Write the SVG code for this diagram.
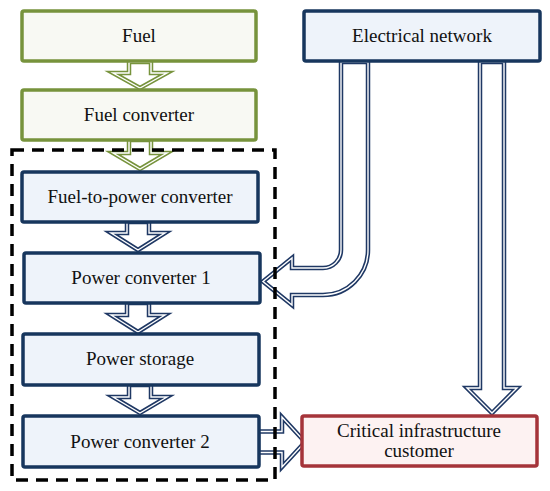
<svg xmlns="http://www.w3.org/2000/svg" width="550" height="491" viewBox="0 0 550 491">
<defs>
<style>
.txt{font-family:"Liberation Serif","DejaVu Serif",serif;font-size:19px;fill:#111;text-anchor:middle}
.g{fill:#f8f9f3;stroke:#77933c;stroke-width:3.5}
.b{fill:#eef3fa;stroke:#17365d;stroke-width:3.5}
.r{fill:#fdf2f2;stroke:#a5343a;stroke-width:3.5}
.ag{fill:#fff;stroke:#77933c;stroke-width:4.5;stroke-linejoin:miter}
.an{fill:#fff;stroke:#1f3864;stroke-width:4.5;stroke-linejoin:miter}
.aw{fill:none;stroke:#fff;stroke-width:1.4;stroke-linejoin:miter}
</style>
<path id="a1" d="M129,62 H151 V73 H167 L140,88 L113,73 H129 Z"/>
<path id="a2" d="M129,140 H151 V153 H167 L140,169 L113,153 H129 Z"/>
<path id="a3" d="M127,222 H149 V233 H165 L138,250 L111,233 H127 Z"/>
<path id="a4" d="M127,303 H149 V315 H165 L138,332 L111,315 H127 Z"/>
<path id="a5" d="M129,385 H151 V397 H167 L140,413 L113,397 H129 Z"/>
<path id="a6" d="M258,431.5 H282 V417 L305,442 L282,467 V452.5 H258 Z"/>
<path id="a7" d="M480,62 H504 V388 H517 L492,413 L467,388 H480 Z"/>
<path id="a8" d="M341,62 V250 A18,18 0 0 1 323,268 H292 V258 L263,281.5 L292,305 V295 H323 A45,45 0 0 0 368,250 V62 Z"/>
</defs>
<rect width="550" height="491" fill="#fff"/>
<g id="connectors">
<use href="#a1" class="ag"/><use href="#a1" class="aw"/>
<use href="#a2" class="ag"/><use href="#a2" class="aw"/>
<use href="#a3" class="an"/><use href="#a3" class="aw"/>
<use href="#a4" class="an"/><use href="#a4" class="aw"/>
<use href="#a5" class="an"/><use href="#a5" class="aw"/>
<use href="#a6" class="an"/><use href="#a6" class="aw"/>
<use href="#a7" class="an"/><use href="#a7" class="aw"/>
<use href="#a8" class="an"/><use href="#a8" class="aw"/>
</g>
<g id="fuel"><rect class="g" x="22" y="11" width="234" height="50" rx="2"/><text class="txt" x="139" y="42">Fuel</text></g>
<g id="fuel-converter"><rect class="g" x="22" y="90" width="234" height="50" rx="2"/><text class="txt" x="139" y="121">Fuel converter</text></g>
<g id="electrical-network"><rect class="b" x="304" y="11" width="236" height="50" rx="2"/><text class="txt" x="422" y="42">Electrical network</text></g>
<g id="fuel-to-power"><rect class="b" x="22" y="172" width="236" height="50" rx="2"/><text class="txt" x="140" y="203">Fuel-to-power converter</text></g>
<g id="power-converter-1"><rect class="b" x="24" y="253" width="236" height="50" rx="2"/><text class="txt" x="141" y="284">Power converter 1</text></g>
<g id="power-storage"><rect class="b" x="23" y="334" width="236" height="51" rx="2"/><text class="txt" x="140" y="365">Power storage</text></g>
<g id="power-converter-2"><rect class="b" x="23" y="416" width="236" height="51" rx="2"/><text class="txt" x="140" y="448">Power converter 2</text></g>
<g id="critical-customer"><rect class="r" x="302" y="416" width="235" height="50" rx="2"/><text class="txt" x="419" y="437">Critical infrastructure</text><text class="txt" x="419" y="457">customer</text></g>
<g id="boundary"><rect x="12" y="150" width="263" height="330" fill="none" stroke="#000" stroke-width="3.5" stroke-dasharray="12,8"/></g>
</svg>
